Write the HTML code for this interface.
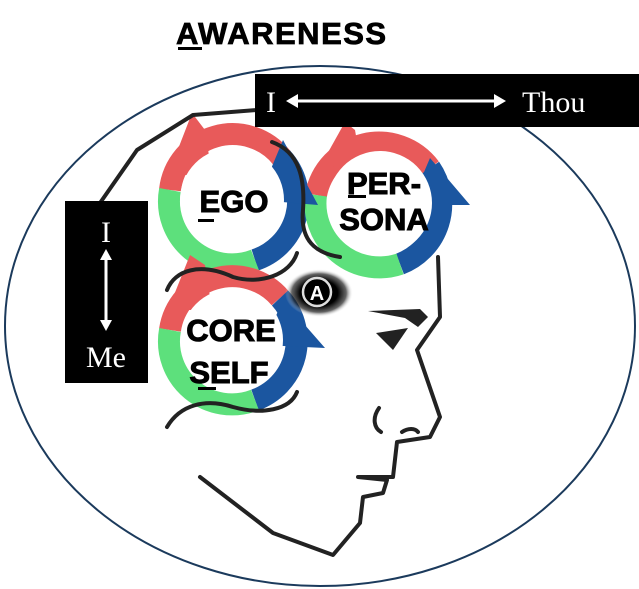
<!DOCTYPE html>
<html><head><style>
body{margin:0;background:#fff;width:639px;height:589px;overflow:hidden}
svg{display:block}
</style></head><body>
<svg width="639" height="589" viewBox="0 0 639 589" xmlns="http://www.w3.org/2000/svg">
<defs>
<radialGradient id="eye" cx="50%" cy="50%" r="50%">
<stop offset="0.55" stop-color="#000"/><stop offset="0.8" stop-color="#222" stop-opacity="0.7"/><stop offset="1" stop-color="#fff" stop-opacity="0"/>
</radialGradient>
</defs>
<text x="176" y="44" font-family="Liberation Sans, sans-serif" font-weight="bold" font-size="31" fill="#000" stroke="#000" stroke-width="0.8" letter-spacing="1.5">AWARENESS</text>
<rect x="178" y="47" width="24" height="3" fill="#000"/>
<ellipse cx="320" cy="326" rx="315" ry="260" fill="none" stroke="#1b3a5c" stroke-width="2"/>

<g fill="none" stroke-width="22">
<path d="M170 190 A63 63 0 0 1 282 158" stroke="#e85a5a"/>
<path d="M282 158 A63 63 0 0 1 255 260" stroke="#1b56a0"/>
<path d="M255 260 A63 63 0 0 1 170 190" stroke="#5de07c"/>
<path d="M316 195 A64 64 0 0 1 430 168" stroke="#e85a5a"/>
<path d="M430 168 A64 64 0 0 1 400 264" stroke="#1b56a0"/>
<path d="M400 264 A64 64 0 0 1 316 195" stroke="#5de07c"/>
<path d="M170 330 A63 63 0 0 1 280 298" stroke="#e85a5a"/>
<path d="M280 298 A63 63 0 0 1 255 400" stroke="#1b56a0"/>
<path d="M255 400 A63 63 0 0 1 170 330" stroke="#5de07c"/>
</g>
<polygon points="168,175 192,113 205,130 212,175" fill="#e85a5a"/>
<polygon points="283,140 318,205 258,200" fill="#1b56a0"/>
<polygon points="321,165 345,122 355,130 362,170" fill="#e85a5a"/>
<polygon points="430,158 470,205 410,205" fill="#1b56a0"/>
<polygon points="168,310 190,255 205,265 212,310" fill="#e85a5a"/>
<polygon points="283,300 325,348 263,345" fill="#1b56a0"/>
<circle cx="232" cy="200" r="52" fill="#fff"/>
<circle cx="380" cy="203" r="52" fill="#fff"/>
<circle cx="232" cy="340" r="51" fill="#fff"/>

<g font-family="Liberation Sans, sans-serif" font-weight="bold" fill="#000" stroke="#000" stroke-width="1" text-anchor="middle">
<text x="234" y="212" font-size="31">EGO</text>
<text x="384" y="194" font-size="31">PER-</text>
<text x="384" y="230" font-size="31">SONA</text>
<text x="231" y="341" font-size="31">CORE</text>
<text x="229" y="383" font-size="31">SELF</text>
</g>
<rect x="198" y="219" width="16" height="3"/>
<rect x="348" y="195" width="18" height="3"/>
<rect x="198" y="387" width="18" height="3"/>

<g fill="none" stroke="#222" stroke-width="4" stroke-linecap="round" stroke-linejoin="round">
<polyline points="257,110 193,115 137,150 100,203"/>
<path d="M272,142 C300,152 305,180 303,210 C300,240 315,253 340,257"/>
<path d="M167,290 C175,270 200,262 233,277 C260,285 290,275 297,253"/>
<path d="M167,427 C180,405 205,398 233,407 C262,415 290,410 297,392"/>
<polyline points="438,257 440,317 417,350 440,417 430,437 397,442 393,477 358,477 387,480 383,493 363,497 360,523 333,555 273,533 200,477"/>
<path d="M379,408 C372,418 374,428 381,432"/>
<path d="M402,432 C408,428 415,428 418,432"/>
</g>
<polygon points="368,311 420,309 428,317 418,327 405,318" fill="#222"/>
<polygon points="376,333 408,328 393,350" fill="#222"/>

<ellipse cx="319" cy="293" rx="34" ry="24" fill="url(#eye)"/>
<circle cx="317" cy="292" r="14" fill="#000" stroke="#ddd" stroke-width="2.5"/>
<text x="317" y="300" font-family="Liberation Sans, sans-serif" font-weight="bold" font-size="20" fill="#fff" text-anchor="middle">A</text>

<rect x="255" y="74" width="384" height="53" fill="#000"/>
<text x="266" y="112" font-family="Liberation Serif, serif" font-size="30" fill="#fff">I</text>
<line x1="292" y1="101" x2="500" y2="101" stroke="#fff" stroke-width="3"/>
<polygon points="286,101 298,94 298,108" fill="#fff"/>
<polygon points="506,101 494,94 494,108" fill="#fff"/>
<text x="522" y="112" font-family="Liberation Serif, serif" font-size="30" fill="#fff">Thou</text>

<rect x="65" y="201" width="83" height="182" fill="#000"/>
<text x="106" y="242" font-family="Liberation Serif, serif" font-size="30" fill="#fff" text-anchor="middle">I</text>
<line x1="106" y1="255" x2="106" y2="325" stroke="#fff" stroke-width="3"/>
<polygon points="106,249 100,260 112,260" fill="#fff"/>
<polygon points="106,331 100,320 112,320" fill="#fff"/>
<text x="106" y="367" font-family="Liberation Serif, serif" font-size="30" fill="#fff" text-anchor="middle">Me</text>
</svg>
</body></html>
